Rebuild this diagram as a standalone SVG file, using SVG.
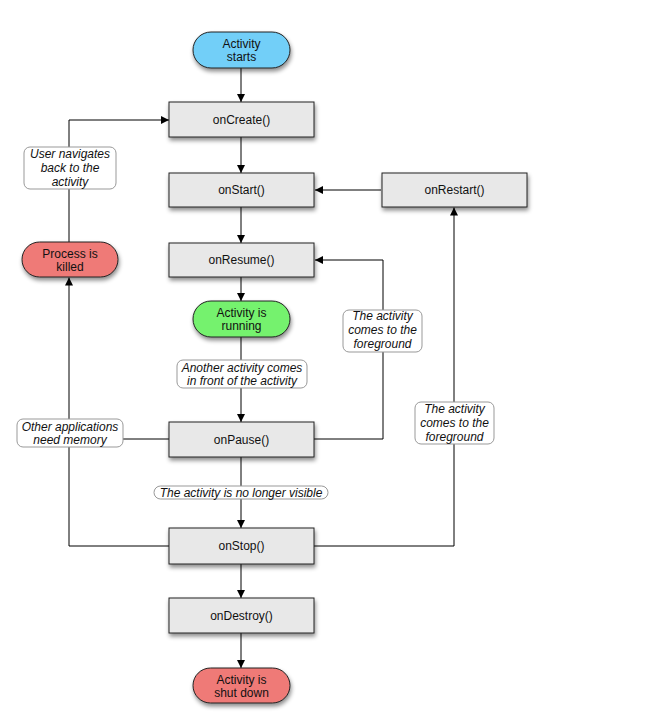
<svg xmlns="http://www.w3.org/2000/svg" width="648" height="713" viewBox="0 0 648 713">
<defs>
<filter id="sh" x="-20%" y="-30%" width="140%" height="170%">
<feDropShadow dx="1" dy="3" stdDeviation="2" flood-color="#000" flood-opacity="0.45"/>
</filter>
<marker id="ah" viewBox="0 0 10 10" refX="10" refY="5" markerWidth="9" markerHeight="8" markerUnits="userSpaceOnUse" orient="auto">
<path d="M0,0 L10,5 L0,10 z" fill="#000"/>
</marker>
<style>
.box{fill:#e8e8e8;stroke:#222;stroke-width:1;filter:url(#sh)}
.pill{stroke:#222;stroke-width:1;filter:url(#sh)}
.lab{fill:#fff;stroke:#999;stroke-width:1}
.t{font-family:"Liberation Sans",Arial,sans-serif;font-size:12px;fill:#111;text-anchor:middle}
.i{font-family:"Liberation Sans",Arial,sans-serif;font-size:12px;font-style:italic;fill:#111;text-anchor:middle}
.c{fill:none;stroke:#000;stroke-width:1}
.a{marker-end:url(#ah)}
</style>
</defs>
<rect width="648" height="713" fill="#fff"/>
<g id="connectors">
<line class="c a" x1="241" y1="68" x2="241" y2="102"/>
<line class="c a" x1="241" y1="137" x2="241" y2="173"/>
<line class="c a" x1="241" y1="207" x2="241" y2="243"/>
<line class="c a" x1="241" y1="277" x2="241" y2="301"/>
<line class="c a" x1="241" y1="337" x2="241" y2="422"/>
<line class="c a" x1="241" y1="457" x2="241" y2="528"/>
<line class="c a" x1="241" y1="564" x2="241" y2="598"/>
<line class="c a" x1="241" y1="633" x2="241" y2="668"/>
<line class="c a" x1="381" y1="190" x2="315" y2="190"/>
<polyline class="c a" points="313,439 383,439 383,260 315,260"/>
<polyline class="c a" points="313,546 454,546 454,207.5"/>
<polyline class="c a" points="169,439 69,439 69,277.5"/>
<polyline class="c" points="169,546 69,546 69,439"/>
<polyline class="c a" points="69,242 69,120 169,120"/>
</g>
<g id="activity-starts">
<rect class="pill" x="193" y="32" width="97" height="36" rx="18" fill="#72cff8"/>
<text class="t" x="241.5" y="48">Activity</text>
<text class="t" x="241.5" y="61">starts</text>
</g>
<g id="onCreate">
<rect class="box" x="169" y="102" width="145" height="35"/>
<text class="t" x="241.5" y="124">onCreate()</text>
</g>
<g id="onStart">
<rect class="box" x="169" y="173" width="145" height="34"/>
<text class="t" x="241.5" y="194">onStart()</text>
</g>
<g id="onRestart">
<rect class="box" x="382" y="173" width="145" height="34"/>
<text class="t" x="454.5" y="194">onRestart()</text>
</g>
<g id="onResume">
<rect class="box" x="169" y="243" width="145" height="34"/>
<text class="t" x="241.5" y="264">onResume()</text>
</g>
<g id="activity-running">
<rect class="pill" x="193" y="301" width="97" height="36" rx="18" fill="#75f26e"/>
<text class="t" x="241.5" y="317">Activity is</text>
<text class="t" x="241.5" y="330">running</text>
</g>
<g id="onPause">
<rect class="box" x="169" y="422" width="145" height="35"/>
<text class="t" x="241.5" y="444">onPause()</text>
</g>
<g id="onStop">
<rect class="box" x="169" y="528" width="145" height="36"/>
<text class="t" x="241.5" y="550">onStop()</text>
</g>
<g id="onDestroy">
<rect class="box" x="169" y="598" width="145" height="35"/>
<text class="t" x="241.5" y="620">onDestroy()</text>
</g>
<g id="activity-shut-down">
<rect class="pill" x="193" y="668" width="97" height="35" rx="17.5" fill="#ef7a77"/>
<text class="t" x="241.5" y="683.5">Activity is</text>
<text class="t" x="241.5" y="696.5">shut down</text>
</g>
<g id="process-killed">
<rect class="pill" x="22" y="242" width="96" height="35" rx="17.5" fill="#ef7a77"/>
<text class="t" x="70" y="257.5">Process is</text>
<text class="t" x="70" y="270.5">killed</text>
</g>
<g id="label-user-navigates">
<rect class="lab" x="24" y="147" width="92" height="42" rx="6"/>
<text class="i" x="70" y="157.5">User navigates</text>
<text class="i" x="70" y="171.5">back to the</text>
<text class="i" x="70" y="185.5">activity</text>
</g>
<g id="label-foreground-upper">
<rect class="lab" x="343" y="310" width="79" height="42" rx="6"/>
<text class="i" x="382.5" y="319.5">The activity</text>
<text class="i" x="382.5" y="333.5">comes to the</text>
<text class="i" x="382.5" y="347.5">foreground</text>
</g>
<g id="label-foreground-lower">
<rect class="lab" x="415" y="402" width="79" height="42" rx="6"/>
<text class="i" x="454.5" y="413">The activity</text>
<text class="i" x="454.5" y="427">comes to the</text>
<text class="i" x="454.5" y="441">foreground</text>
</g>
<g id="label-another-activity">
<rect class="lab" x="177" y="360" width="130" height="28" rx="6"/>
<text class="i" x="242" y="371.5">Another activity comes</text>
<text class="i" x="242" y="384.5">in front of the activity</text>
</g>
<g id="label-other-apps">
<rect class="lab" x="17" y="419" width="106" height="28" rx="6"/>
<text class="i" x="70" y="431">Other applications</text>
<text class="i" x="70" y="444">need memory</text>
</g>
<g id="label-no-longer-visible">
<rect class="lab" x="154" y="486" width="174" height="13" rx="6.5"/>
<text class="i" x="241" y="497">The activity is no longer visible</text>
</g>
</svg>
